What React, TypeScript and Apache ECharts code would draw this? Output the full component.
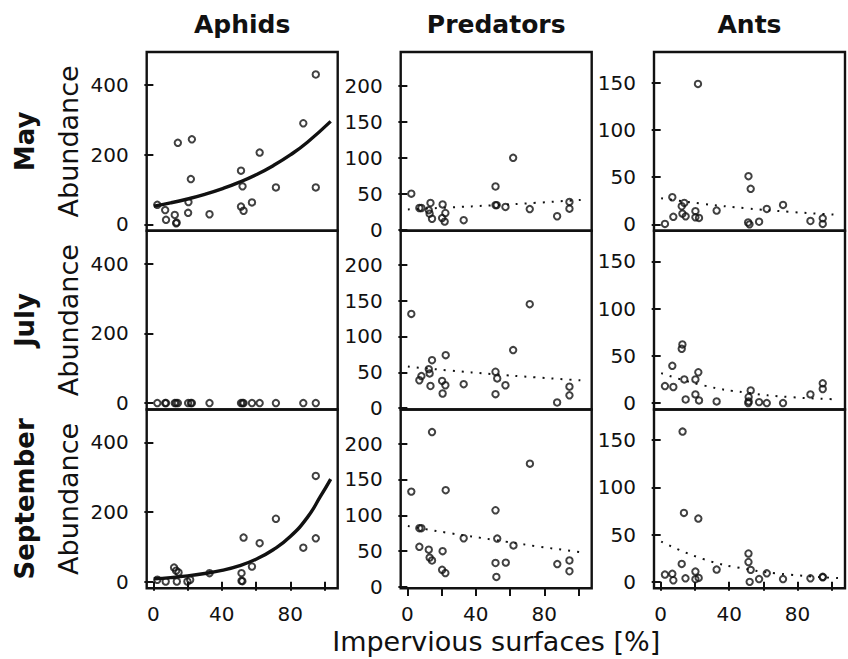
import React, { useEffect, useRef } from 'react';
import * as echarts from 'echarts';

// ---- Data ----
const columnTitles = ['Aphids', 'Predators', 'Ants'];
const monthLabels = ['May', 'July', 'September'];
const xTickValues = [0, 20, 40, 60, 80, 100];
const xLabelValues = [0, 40, 80];
const yTicksAphids = [0, 200, 400];
const yTicksPredators = [0, 50, 100, 150, 200];
const yTicksAnts = [0, 50, 100, 150];

const aphidsMay = [[2.3,56],[6.9,41],[7.4,13],[12.5,27],[13.3,3],[13.6,5],[14.3,234],[20.3,33],[20.5,64],[21.9,130],[22.5,244],[32.8,29],[51.2,154],[52.1,109],[51.2,51],[52.7,39],[57.6,63],[62.1,206],[71.6,106],[87.6,290],[94.9,430],[94.9,106]];
const aphidsJuly = [[2.3,0],[6.9,0],[7.4,0],[12.5,0],[13.3,0],[14.3,0],[20.3,0],[21.9,0],[22.5,0],[32.8,0],[51.2,0],[52.1,0],[52.7,0],[57.6,0],[62.1,0],[71.6,0],[87.6,0],[94.9,0]];
const aphidsSept = [[2.3,6],[7.2,1],[12.1,41],[13.3,32],[14.7,27],[13.7,1],[19.9,1],[21.5,6],[32.8,25],[51.5,25],[51.5,3],[52,2],[52.7,127],[57.6,44],[62.1,111],[71.6,181],[87.6,98],[94.9,304],[94.9,125]];

const predatorsMay = [[2.3,50],[7,30],[8.2,30],[13.5,37],[12.5,27],[13,22],[14.4,15],[20.6,35],[22.2,23],[20.3,16],[21.8,11],[32.9,13],[51.5,60],[51.5,34],[52.2,34],[57.3,31.5],[61.8,100],[71.5,28.5],[87.5,18.5],[94.7,38.5],[94.7,29]];
const predatorsJuly = [[2.3,131.5],[7,39],[8.2,44.8],[12.5,54.5],[13,48.5],[14.4,67],[13.5,31],[20.3,38],[20.6,20.5],[22.2,32],[22.4,74],[32.9,33.5],[51.5,50.8],[52.5,41.5],[51.5,19.6],[57.3,32],[61.8,81],[71.5,145],[87.5,8],[94.7,30],[94.7,18]];
const predatorsSept = [[2.3,133],[14.4,216],[7,82],[8.2,82],[7,56],[12.5,52],[13,41],[14.4,37],[20.6,50],[20.3,24],[22.2,19.5],[22.4,135],[32.9,68],[51.5,107],[52.5,67.5],[51.5,33.5],[52,14],[57.5,34],[62,58],[71.6,172],[87.6,32],[94.7,37],[94.7,22]];

const antsMay = [[2.5,0.5],[6.8,28.7],[7.4,8],[12.7,11.4],[13.8,22.7],[12.3,19.2],[14.6,8.5],[20.3,14],[20.3,7.5],[22.4,6.8],[21.8,148.6],[32.7,14.6],[51.3,51],[52.6,37.6],[51.1,2],[51.9,0],[57.5,2.8],[62,16.3],[71.5,20.6],[87.5,3.6],[94.7,6.4],[94.7,0.5]];
const antsJuly = [[2.5,18],[7.4,17],[6.8,39.4],[12.7,62],[12.3,57.4],[13.8,25],[14.6,3.8],[20.3,25],[22,32.6],[20.3,9.2],[22.4,2.8],[32.7,1.7],[52.6,13.4],[51.4,6.4],[51.4,1.7],[51.2,0],[57.5,1],[62,0],[71.5,0],[87.5,9.2],[94.7,20.9],[94.7,14.9]];
const antsSept = [[2.5,7.7],[6.8,8.5],[7.4,1.7],[12.8,159],[13.6,73],[12.3,19],[14.5,3.8],[20.3,10.9],[20.3,2.8],[22.2,4.2],[22,67],[32.7,13],[51.3,30],[51.3,21],[52.6,12.7],[52,0],[57.5,3],[62,9],[71.5,3],[87.5,3.8],[94.7,5.3],[94.7,4.8]];

// fitted curves
const aphidsMayFit = [[0.3,52.3],[10,61.5],[20,72.8],[30,86],[40,101.8],[50,120.4],[60,142.4],[70,168.4],[80,199.2],[90,235.7],[103.6,295.4]];
const aphidsSeptFit = [[0.3,8.7],[10,12],[20,17],[30,24],[40,33],[50,46],[60,65],[70,92],[80,130],[90,185],[97.6,245],[103.6,295]];
const predatorsMayFit = [[0.3,28],[25,30.8],[50,33.8],[75,37.2],[103.6,41.7]];
const predatorsJulyFit = [[0.3,58],[25,52.5],[50,47.5],[75,43],[103.6,38.5]];
const predatorsSeptFit = [[0.3,85],[25,75],[50,66],[75,57],[103.6,48]];
const antsMayFit = [[0.3,27.6],[25,21.7],[50,17],[75,13.3],[103.6,10.1]];
const antsJulyFit = [[0.3,31.7],[25,18.7],[50,11],[75,6.4],[103.6,4]];
const antsSeptFit = [[0.3,42.7],[25,24.1],[50,13.6],[75,7.7],[103.6,4]];

const panelData = [
  [aphidsMay, predatorsMay, antsMay],
  [aphidsJuly, predatorsJuly, antsJuly],
  [aphidsSept, predatorsSept, antsSept],
];
const panelFits: (number[][] | null)[][] = [
  [aphidsMayFit, predatorsMayFit, antsMayFit],
  [null, predatorsJulyFit, antsJulyFit],
  [aphidsSeptFit, predatorsSeptFit, antsSeptFit],
];
const yTicksByCol = [yTicksAphids, yTicksPredators, yTicksAnts];

// ---- Layout ----
const FONT = 'DejaVu Sans';
const INK = '#111';
const colLeft = [146.7, 400.7, 654];
const rowTop = [52, 230.7, 409.5];
const panelW = 191;
const panelH = 178.8;
const xRange = [-3.9, 107.7];
const yRanges = [[-18.5, 494.5], [-1.8, 247.5], [-6.8, 182.4]];

function buildOption() {
  const grid: any[] = [];
  const xAxis: any[] = [];
  const yAxis: any[] = [];
  const series: any[] = [];
  for (let r = 0; r < 3; r++) {
    for (let c = 0; c < 3; c++) {
      const i = r * 3 + c;
      grid.push({
        left: colLeft[c], top: rowTop[r], width: panelW, height: panelH,
        show: true, borderColor: INK, borderWidth: 2.4, backgroundColor: 'transparent',
      });
      const bottom = r === 2;
      xAxis.push({
        type: 'value', gridIndex: i, min: xRange[0], max: xRange[1],
        axisLine: { show: false }, splitLine: { show: false },
        axisTick: { show: bottom, length: 9, inside: false, customValues: xTickValues, lineStyle: { color: INK, width: 2 } },
        axisLabel: { show: bottom, customValues: xLabelValues, fontSize: 20, fontFamily: FONT, color: INK, margin: 16 },
      });
      yAxis.push({
        type: 'value', gridIndex: i, min: yRanges[c][0], max: yRanges[c][1],
        axisLine: { show: false }, splitLine: { show: false },
        axisTick: { show: true, length: 9, inside: false, customValues: yTicksByCol[c], lineStyle: { color: INK, width: 2 } },
        axisLabel: { show: true, customValues: yTicksByCol[c], fontSize: 20, fontFamily: FONT, color: INK, margin: 18 },
      });
      series.push({
        type: 'scatter', xAxisIndex: i, yAxisIndex: i, data: panelData[r][c],
        symbol: 'circle', symbolSize: 6.4, silent: true,
        itemStyle: { color: 'rgba(0,0,0,0)', borderColor: INK, borderWidth: 2 },
        z: 3,
      });
      const fit = panelFits[r][c];
      if (fit) {
        const solid = c === 0;
        series.push({
          type: 'line', xAxisIndex: i, yAxisIndex: i, data: fit, smooth: true,
          showSymbol: false, silent: true, z: 4,
          lineStyle: solid
            ? { color: INK, width: 3.4, type: 'solid' }
            : { color: INK, width: 2, type: [2, 7], cap: 'butt' },
        });
      }
    }
  }

  const graphic: any[] = [];
  columnTitles.forEach((t, c) => {
    graphic.push({
      type: 'text', x: colLeft[c] + panelW / 2, y: 24,
      style: { text: t, fontFamily: FONT, fontWeight: 'bold', fontSize: 25, fill: INK, textAlign: 'center', textVerticalAlign: 'middle' },
    });
  });
  monthLabels.forEach((m, r) => {
    const cy = rowTop[r] + panelH / 2;
    graphic.push({
      type: 'text', x: 25, y: cy, rotation: Math.PI / 2,
      style: { text: m, fontFamily: FONT, fontWeight: 'bold', fontSize: 26, fill: INK, textAlign: 'center', textVerticalAlign: 'middle' },
    });
    graphic.push({
      type: 'text', x: 68, y: cy, rotation: Math.PI / 2,
      style: { text: 'Abundance', fontFamily: FONT, fontSize: 27, fill: INK, textAlign: 'center', textVerticalAlign: 'middle' },
    });
  });
  graphic.push({
    type: 'text', x: colLeft[1] + panelW / 2, y: 641,
    style: { text: 'Impervious surfaces [%]', fontFamily: FONT, fontSize: 27, fill: INK, textAlign: 'center', textVerticalAlign: 'middle' },
  });

  return {
    animation: false,
    backgroundColor: '#ffffff',
    grid, xAxis, yAxis, series, graphic,
  };
}

export default function App() {
  const ref = useRef<HTMLDivElement>(null);
  useEffect(() => {
    if (!ref.current) return;
    const chart = echarts.init(ref.current, null, { renderer: 'svg' });
    chart.setOption(buildOption());
    return () => chart.dispose();
  }, []);
  return (
    <div
      ref={ref}
      style={{ position: 'absolute', left: 0, top: 0, width: 848, height: 659, background: '#fff' }}
    />
  );
}
